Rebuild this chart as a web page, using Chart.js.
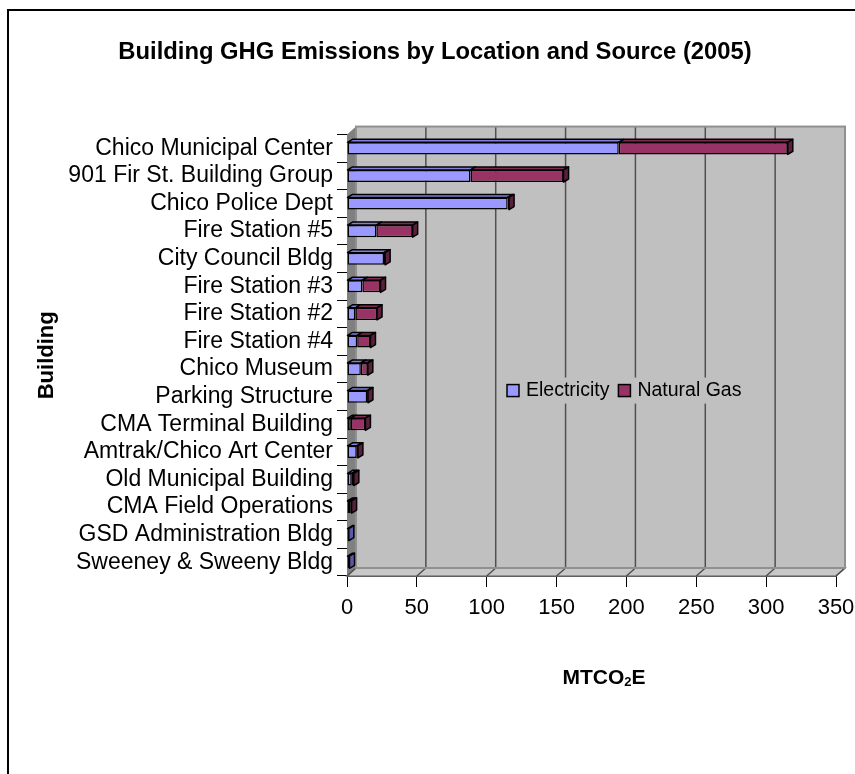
<!DOCTYPE html>
<html>
<head>
<meta charset="utf-8">
<script src="https://cdn.jsdelivr.net/npm/chart.js@4.4.1/dist/chart.umd.min.js"></script>
<style>
  body { margin: 0; background: #fff; overflow: hidden; }
  #frame { position: absolute; left: 7px; top: 9px; width: 1000px; height: 1000px; border: 2px solid #000; }
  #chart { position: absolute; left: 0; top: 0; }
</style>
</head>
<body>
<div id="frame"></div>
<canvas id="chart" width="855" height="774"></canvas>
<script>
const buildings = [
    'Chico Municipal Center', '901 Fir St. Building Group', 'Chico Police Dept',
    'Fire Station #5', 'City Council Bldg', 'Fire Station #3', 'Fire Station #2',
    'Fire Station #4', 'Chico Museum', 'Parking Structure', 'CMA Terminal Building',
    'Amtrak/Chico Art Center', 'Old Municipal Building', 'CMA Field Operations',
    'GSD Administration Bldg', 'Sweeney & Sweeny Bldg'
];
const electricity = [194.5, 88.4, 115, 21, 26.5, 11, 6, 7.3, 9.9, 14.4, 2.7, 7, 3.4, 2.3, 1.3, 1.8];
const natural_gas = [121, 66.6, 1, 26, 0.8, 13, 15.5, 9.5, 5, 0.6, 10.5, 0.8, 1.5, 1, 0, 0];
const x_ticks = [0, 50, 100, 150, 200, 250, 300, 350];

const FONT = "'Liberation Sans', Arial, sans-serif";
Chart.defaults.font.family = FONT;
Chart.defaults.color = '#000';

// depth of the 3d box and of the bars
const DX = 9, DY = 8, BX = 5, BY = 3;

const walls = {
    id: 'walls',
    beforeDatasetsDraw(chart) {
        const {ctx, chartArea: a, scales: {x}} = chart;
        ctx.save();
        // back wall
        ctx.fillStyle = '#c0c0c0';
        ctx.fillRect(a.left + DX, a.top - DY, a.width, a.height);
        // floor
        ctx.beginPath();
        ctx.moveTo(a.left, a.bottom);
        ctx.lineTo(a.right, a.bottom);
        ctx.lineTo(a.right + DX, a.bottom - DY);
        ctx.lineTo(a.left + DX, a.bottom - DY);
        ctx.closePath();
        ctx.fillStyle = '#c8c8c8';
        ctx.fill();
        ctx.strokeStyle = '#808080';
        ctx.lineWidth = 1.5;
        ctx.stroke();
        // side wall
        ctx.beginPath();
        ctx.moveTo(a.left, a.top);
        ctx.lineTo(a.left + DX, a.top - DY);
        ctx.lineTo(a.left + DX, a.bottom - DY);
        ctx.lineTo(a.left, a.bottom);
        ctx.closePath();
        ctx.fillStyle = '#808080';
        ctx.fill();
        // grid lines on the wall and floor
        ctx.strokeStyle = '#505050';
        ctx.lineWidth = 1.5;
        x.ticks.forEach(t => {
            const px = x.getPixelForValue(t.value);
            ctx.beginPath();
            ctx.moveTo(px + DX, a.top - DY);
            ctx.lineTo(px + DX, a.bottom - DY);
            ctx.moveTo(px, a.bottom);
            ctx.lineTo(px + DX, a.bottom - DY);
            ctx.stroke();
        });
        ctx.strokeStyle = '#909090';
        ctx.lineWidth = 2;
        ctx.strokeRect(a.left + DX, a.top - DY, a.width, a.height);
        ctx.restore();
    },
    afterDatasetsDraw(chart) {
        const ctx = chart.ctx;
        const sets = chart.data.datasets;
        ctx.save();
        ctx.strokeStyle = '#000';
        ctx.lineWidth = 1.5;
        ctx.lineJoin = 'round';
        sets.forEach((ds, di) => {
            chart.getDatasetMeta(di).data.forEach((bar, i) => {
                if (!ds.data[i]) return;
                const {x, y, base, height} = bar.getProps(['x', 'y', 'base', 'height'], true);
                const top = y - height / 2, bottom = y + height / 2;
                ctx.beginPath();
                ctx.moveTo(base, top);
                ctx.lineTo(base + BX, top - BY);
                ctx.lineTo(x + BX, top - BY);
                ctx.lineTo(x, top);
                ctx.closePath();
                ctx.fillStyle = ds.topColor;
                ctx.fill();
                ctx.stroke();
                // side face only for the outermost segment that has a value
                const outer = sets.slice(di + 1).every(s => !s.data[i]);
                if (outer) {
                    ctx.beginPath();
                    ctx.moveTo(x, top);
                    ctx.lineTo(x + BX, top - BY);
                    ctx.lineTo(x + BX, bottom - BY);
                    ctx.lineTo(x, bottom);
                    ctx.closePath();
                    ctx.fillStyle = ds.sideColor;
                    ctx.fill();
                    ctx.stroke();
                }
            });
        });
        ctx.restore();
    },
    afterDraw(chart) {
        const {ctx, chartArea: a} = chart;
        ctx.save();
        // legend inside the plot
        ctx.font = '19.5px ' + FONT;
        ctx.textBaseline = 'middle';
        let lx = a.left + 160;
        const ly = a.top + 256;
        const widths = chart.data.datasets.map(ds => ctx.measureText(ds.label).width);
        const total = widths.reduce((s, w) => s + w + 28, 0);
        ctx.fillStyle = '#c0c0c0';
        ctx.fillRect(lx - 4, ly - 13, total, 26);
        chart.data.datasets.forEach((ds, i) => {
            ctx.fillStyle = ds.backgroundColor;
            ctx.fillRect(lx, ly - 6, 12, 12);
            ctx.strokeStyle = '#000';
            ctx.lineWidth = 1.5;
            ctx.strokeRect(lx, ly - 6, 12, 12);
            ctx.fillStyle = '#000';
            ctx.fillText(ds.label, lx + 19, ly);
            lx += 19 + widths[i] + 9;
        });
        // x axis title with subscript
        const big = 'bold 21px ' + FONT, small = 'bold 13px ' + FONT;
        ctx.font = big;
        const w1 = ctx.measureText('MTCO').width, w3 = ctx.measureText('E').width;
        ctx.font = small;
        const w2 = ctx.measureText('2').width;
        let tx = a.left + 257 - (w1 + w2 + w3) / 2;
        const ty = 678;
        ctx.textBaseline = 'middle';
        ctx.font = big;
        ctx.fillText('MTCO', tx, ty);
        ctx.font = small;
        ctx.fillText('2', tx + w1, ty + 4);
        ctx.font = big;
        ctx.fillText('E', tx + w1 + w2, ty);
        ctx.restore();
    }
};

const ctx = document.getElementById('chart').getContext('2d');
const chart = new Chart(ctx, {
    type: 'bar',
    data: {
        labels: buildings,
        datasets: [
            {
                label: 'Electricity',
                data: electricity,
                backgroundColor: '#9999ff',
                topColor: '#8080dd',
                sideColor: '#5a5aa8',
                borderColor: '#000',
                borderWidth: 1.5,
                borderSkipped: false
            },
            {
                label: 'Natural Gas',
                data: natural_gas,
                backgroundColor: '#993366',
                topColor: '#7f2a55',
                sideColor: '#5c1f3d',
                borderColor: '#000',
                borderWidth: 1.5,
                borderSkipped: false
            }
        ]
    },
    options: {
        responsive: false,
        animation: false,
        indexAxis: 'y',
        categoryPercentage: 1,
        barPercentage: 0.44,
        layout: { padding: { left: 34, right: 19, top: 0, bottom: 0 } },
        plugins: {
            legend: { display: false },
            tooltip: { enabled: false },
            title: {
                display: true,
                text: 'Building GHG Emissions by Location and Source (2005)',
                font: { size: 23.8, weight: 'bold' },
                color: '#000',
                padding: { top: 38, bottom: 68 }
            }
        },
        scales: {
            x: {
                stacked: true,
                min: x_ticks[0],
                max: x_ticks[x_ticks.length - 1],
                afterFit(scale) {
                    scale.height = 198;
                    scale.paddingLeft = 0;
                    scale.paddingRight = 0;
                },
                ticks: {
                    stepSize: x_ticks[1] - x_ticks[0],
                    font: { size: 22 },
                    color: '#000',
                    padding: 8,
                    maxRotation: 0,
                    autoSkip: false
                },
                grid: { drawOnChartArea: false, tickLength: 11, color: '#000', lineWidth: 1 },
                border: { display: true, color: '#000', width: 1 }
            },
            y: {
                stacked: true,
                afterFit(scale) { scale.width = 313; },
                ticks: {
                    font: { size: 23, lineHeight: 1 },
                    color: '#000',
                    padding: 4,
                    autoSkip: false
                },
                grid: { drawOnChartArea: false, tickLength: 10, color: '#000', offset: true },
                border: { display: true, color: '#000', width: 1 },
                title: {
                    display: true,
                    text: 'Building',
                    font: { size: 22, weight: 'bold' },
                    color: '#000',
                    padding: { top: 0, bottom: 0 }
                }
            }
        }
    },
    plugins: [walls]
});
</script>
</body>
</html>
